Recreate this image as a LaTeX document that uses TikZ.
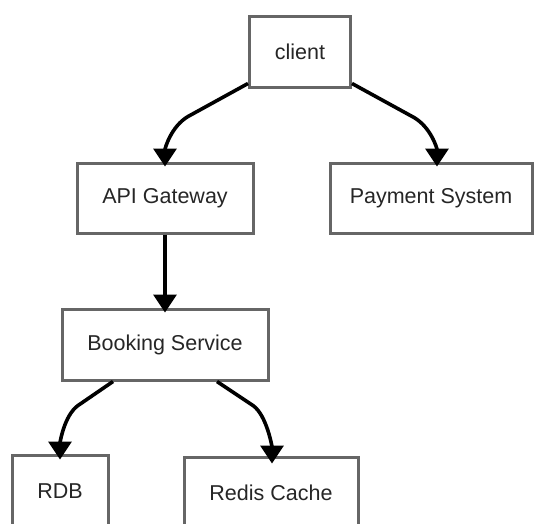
\documentclass[tikz,border=0pt]{standalone}
\usepackage{fontspec}
\setmainfont{Liberation Sans}
\usetikzlibrary{arrows.meta,calc,shadows}
\begin{document}
\begin{tikzpicture}[x=1pt,y=-1pt,
  box/.style={draw=black!60, line width=3pt, fill=white,
    drop shadow={shadow xshift=1.5pt, shadow yshift=-1.5pt, fill=black!25},
    inner sep=0pt, font=\fontsize{21.5}{25}\selectfont, text=black!85},
  arr/.style={line width=3.6pt, line join=round,
    -{Triangle[length=18pt,width=23pt]}}]
\useasboundingbox (0,0) rectangle (535,523);
\fill[white] (0,0) rectangle (535,523);
% service boxes
\node[box, minimum width=101pt, minimum height=71pt] (client) at (300,51.5) {client};
\node[box, minimum width=176pt, minimum height=70pt] (api) at (165,198) {API Gateway};
\node[box, minimum width=202pt, minimum height=70pt] (pay) at (431,198) {Payment System};
\node[box, minimum width=206pt, minimum height=71pt] (book) at (165,344.5) {Booking Service};
\node[box, minimum width=96pt, minimum height=72pt] (rdb) at (60,491) {RDB};
\node[box, minimum width=174pt, minimum height=72pt] (redis) at (271,493) {Redis Cache};
% connectors: straight run, then a tight bend into the vertical
\draw[arr] ([yshift=5pt]client.south west) -- ++(-60,33)
  .. controls +(-17,10) and +(0,-18) .. ([yshift=-5pt]api.north);
\draw[arr] ([yshift=5pt]client.south east) -- ++(62,34)
  .. controls +(17,10) and +(0,-18) .. ([xshift=6pt,yshift=-5pt]pay.north);
\draw[arr] (api.south) -- ([yshift=-5pt]book.north);
\draw[arr] ([xshift=-52pt]book.south) -- ++(-35,24)
  .. controls +(-14,10) and +(0,-16) .. ([yshift=-6pt]rdb.north);
\draw[arr] ([xshift=52pt]book.south) -- ++(36,24)
  .. controls +(14,10) and +(0,-16) .. ([xshift=1pt,yshift=-8pt]redis.north);
\end{tikzpicture}
\end{document}
